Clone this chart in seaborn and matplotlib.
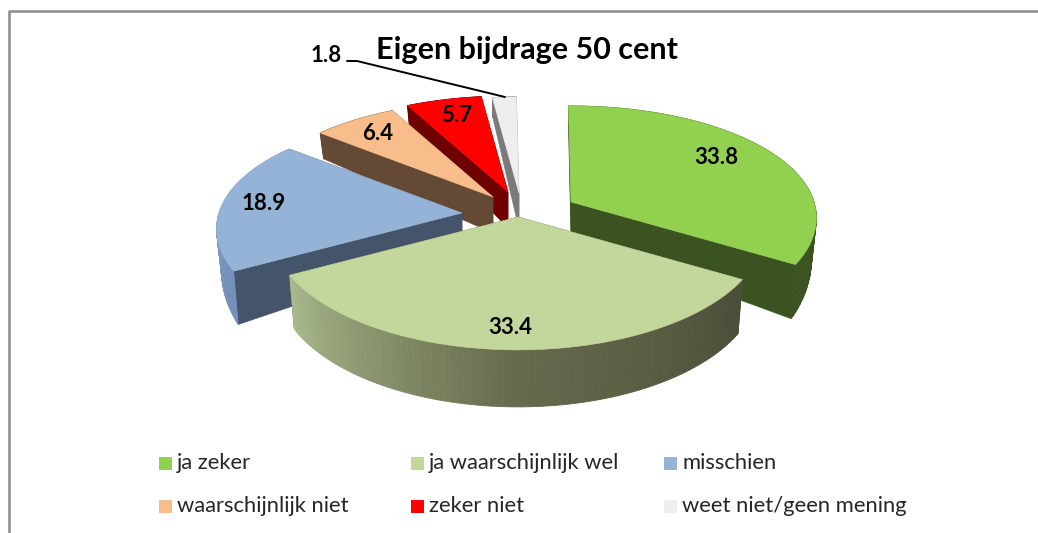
import numpy as np
import seaborn as sns
import matplotlib.pyplot as plt

# Chart data
categories = ["ja zeker", "ja waarschijnlijk wel", "misschien",
              "waarschijnlijk niet", "zeker niet", "weet niet/geen mening"]
values = [33.8, 33.4, 18.9, 6.4, 5.7, 1.8]
title = "Eigen bijdrage 50 cent"

# Colours
top_colors = ["#92d050", "#c3d69b", "#95b3d7", "#f8bd8b", "#ff0000", "#eeeeee"]
face_colors = ["#3b5320", "#50543f", "#44546a", "#644a35", "#6e0000", "#7a7a7a"]
wall_from = ["#3b5320", "#4b4e38", "#7390b8", "#644a35", "#6e0000", "#7a7a7a"]
wall_mid = ["#3b5320", "#666b4d", "#8099c2", "#644a35", "#6e0000", "#7a7a7a"]
wall_to = ["#3b5320", "#a9b98c", "#8fadd6", "#644a35", "#6e0000", "#7a7a7a"]

# Layout in pixels: the apex of each exploded slice and where its label sits
apex = [(571, 202), (518, 217), (462, 213), (493, 197), (508, 192), (519, 193)]
label_pos = [(716, 158), (510, 327), (264, 203), (378, 134), (457, 115)]
draw_order = [5, 4, 3, 0, 2, 1]
radius, squash, persp, persp_x = 243, 111.5, 0.161, 0.14
start_deg = -0.7

sns.set_theme(style="white")
plt.rcParams["font.family"] = ["Lato", "DejaVu Sans"]

fig = plt.figure(figsize=(10.38, 5.33), dpi=100)
ax = fig.add_axes([0, 0, 1, 1])
ax.set_xlim(0, 1038)
ax.set_ylim(533, 0)
ax.axis("off")


def project(center, theta, r=1.0, bottom=False):
    # clockwise angle from the top of the pie, simple perspective on the disc
    u = r * np.sin(theta)
    v = -r * np.cos(theta)
    x = radius * u / (1 - persp_x * v)
    y = squash * v / (1 - persp * v)
    if bottom:
        x = x * 0.98
        y = y + np.interp(v, [-1, 0, 0.5, 1], [20, 36, 54, 57])
    return center[0] + x, center[1] + y


# slice angles from the values
edges = np.radians(start_deg + np.cumsum([0] + values) / sum(values) * 360)

for i in draw_order:
    c = apex[i]
    z = 1 + draw_order.index(i)
    t = np.linspace(edges[i], edges[i + 1], 90)
    tx, ty = project(c, t)
    bx, by = project(c, t, bottom=True)

    # the two cut faces
    for a in (edges[i], edges[i + 1]):
        ox, oy = project(c, a)
        px, py = project(c, a, bottom=True)
        qx, qy = project(c, a, 0.0, bottom=True)
        ax.fill([c[0], ox, px, qx], [c[1], oy, py, qy], color=face_colors[i],
                lw=0.4, zorder=z)

    # outer wall, in small pieces so it can carry the gradient
    ramp = sns.blend_palette([wall_from[i], wall_mid[i], wall_to[i]], len(t) - 1)
    for j in range(len(t) - 1):
        ax.fill([tx[j], tx[j + 1], bx[j + 1], bx[j]],
                [ty[j], ty[j + 1], by[j + 1], by[j]],
                color=ramp[j], lw=0.6, zorder=z + 0.2)

    # top of the slice
    ax.fill(np.r_[c[0], tx], np.r_[c[1], ty], color=top_colors[i], lw=0.4,
            zorder=z + 0.5)

# data labels
for val, (lx, ly) in zip(values, label_pos):
    ax.text(lx, ly, f"{val:.1f}", ha="center", va="center", fontsize=16,
            fontweight="bold", color="black", zorder=20)

# the small slice has its label outside, with a leader line
ax.text(326, 56, f"{values[5]:.1f}", ha="center", va="center", fontsize=16,
        fontweight="bold", color="black", zorder=20)
ax.plot([347, 357, 505], [61, 61, 97], color="black", lw=1.4, zorder=20)

ax.text(527, 50, title, ha="center", va="center", fontsize=22,
        fontweight="bold", color="black", zorder=20)

# legend, three equal columns
col_x = [159, 411, 664]
row_y = [463, 506]
for i, name in enumerate(categories):
    x = col_x[i % 3]
    y = row_y[i // 3]
    ax.add_patch(plt.Rectangle((x, y - 6.5), 13, 13, color=top_colors[i], lw=0))
    ax.text(x + 18, y, name, ha="left", va="center", fontsize=15.8, color="#262626")

# chart frame, cut off on the right and at the bottom
ax.plot([8.5, 8.5, 1038], [533, 10.5, 10.5], color="#8c8c8c", lw=1.8, zorder=0.5)

fig.savefig("out.png", dpi=100)
